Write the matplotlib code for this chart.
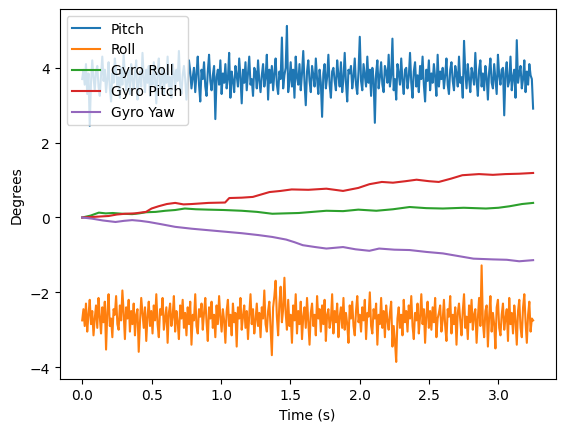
import numpy as np
import matplotlib
matplotlib.use("Agg")
import matplotlib.pyplot as plt

duration = 3.25

pitch = [
    3.70, 3.95, 3.55, 4.10, 3.30, 3.85, 2.45, 3.60, 4.20, 3.75, 3.40, 3.90,
    4.05, 3.50, 3.25, 3.80, 4.30, 3.65, 3.95, 3.35, 3.70, 4.15, 3.45, 3.10,
    3.85, 3.60, 4.25, 3.90, 3.50, 3.75, 3.20, 4.00, 3.55, 4.35, 3.80, 3.40,
    3.65, 3.95, 3.30, 4.10, 3.70, 3.45, 3.85, 4.20, 3.15, 3.60, 3.90, 3.50,
    4.40, 3.75, 3.35, 3.95, 3.60, 4.05, 3.25, 3.80, 3.55, 4.15, 3.70, 3.05,
    3.90, 4.25, 3.45, 3.65, 4.00, 3.30, 3.85, 3.60, 4.30, 3.50, 3.75, 3.20,
    4.10, 3.85, 3.40, 3.95, 3.65, 4.45, 3.55, 3.30, 3.80, 4.05, 3.70, 3.15,
    3.60, 4.20, 3.90, 3.45, 3.75, 4.00, 3.35, 3.85, 4.30, 3.55, 3.10, 3.95,
    3.70, 4.15, 3.50, 3.25, 3.90, 4.35, 3.65, 3.40, 3.80, 4.05, 2.63, 3.75,
    3.95, 3.55, 4.20, 3.30, 3.85, 3.60, 4.10, 3.45, 3.70, 4.40, 3.20, 3.90,
    3.65, 3.35, 4.05, 3.80, 3.50, 4.25, 3.75, 3.05, 3.95, 3.60, 4.15, 3.40,
    3.85, 4.30, 3.55, 3.70, 3.25, 4.00, 3.90, 3.45, 4.20, 3.65, 3.35, 3.80,
    4.10, 3.50, 3.75, 4.35, 3.15, 3.95, 3.60, 4.05, 3.40, 3.85, 4.25, 3.55,
    3.30, 3.90, 3.70, 4.81, 3.45, 3.80, 4.00, 5.12, 3.35, 3.65, 4.15, 3.50,
    3.95, 3.20, 4.30, 3.75, 3.55, 4.10, 3.40, 3.85, 4.45, 3.60, 3.00, 3.90,
    4.20, 3.65, 3.35, 4.05, 3.80, 3.50, 4.25, 3.70, 3.30, 3.95, 3.60, 2.69,
    3.85, 4.10, 3.45, 3.75, 4.35, 3.55, 3.20, 3.90, 4.00, 3.65, 3.40, 4.20,
    3.80, 3.50, 4.15, 3.35, 3.70, 4.40, 3.60, 3.10, 3.95, 3.85, 4.05, 3.45,
    3.75, 4.25, 3.55, 3.30, 3.90, 4.83, 3.65, 3.40, 4.10, 3.80, 3.50, 4.30,
    3.60, 3.95, 3.25, 4.00, 3.70, 2.53, 3.85, 4.20, 3.45, 3.75, 4.15, 3.55,
    3.35, 4.05, 3.90, 3.60, 4.35, 3.50, 3.80, 4.78, 3.40, 3.70, 3.15, 4.10,
    3.85, 3.55, 4.25, 3.65, 3.30, 3.95, 4.00, 3.45, 3.75, 4.40, 3.60, 3.20,
    3.90, 4.15, 3.50, 3.80, 3.35, 4.05, 3.70, 4.30, 3.55, 3.10, 3.95, 3.65,
    4.20, 3.40, 3.85, 3.60, 4.10, 3.75, 3.25, 4.35, 3.50, 3.90, 3.70, 4.00,
    3.45, 3.80, 4.25, 3.55, 3.30, 3.95, 4.15, 3.65, 3.40, 4.05, 3.85, 3.50,
    4.30, 3.60, 3.75, 3.20, 4.72, 3.90, 3.45, 4.10, 3.70, 3.35, 4.00, 3.80,
    3.55, 4.40, 3.65, 3.25, 3.95, 4.20, 3.50, 3.85, 3.40, 4.05, 3.75, 3.15,
    3.90, 4.25, 3.60, 3.45, 4.10, 3.70, 3.30, 4.35, 3.80, 3.55, 3.95, 4.00,
    2.73, 3.85, 4.15, 3.50, 3.65, 4.30, 3.40, 3.75, 3.95, 3.20, 4.74, 3.60,
    3.85, 4.05, 3.45, 3.70, 4.20, 3.35, 3.90, 3.55, 4.10, 3.80, 3.70, 2.91,
]

roll = [
    -2.75, -2.45, -2.90, -2.30, -3.05, -2.60, -2.20, -2.85, -2.50, -3.15, -2.70, -2.35,
    -2.95, -2.15, -2.65, -3.10, -2.40, -2.80, -2.25, -3.53, -2.55, -2.05, -2.90, -2.70,
    -3.20, -2.45, -2.60, -2.10, -2.85, -3.00, -2.35, -2.75, -1.95, -2.55, -3.25, -2.40,
    -2.70, -2.20, -3.05, -2.50, -2.85, -2.30, -3.15, -2.60, -2.45, -3.59, -2.80, -2.15,
    -2.55, -2.95, -2.40, -3.30, -2.65, -2.25, -2.90, -2.50, -3.10, -2.35, -2.75, -2.05,
    -2.85, -3.20, -2.45, -2.60, -2.15, -3.00, -2.70, -2.40, -3.35, -2.55, -2.30, -2.90,
    -2.65, -2.10, -3.05, -2.50, -2.80, -3.25, -2.35, -2.70, -2.20, -2.95, -2.55, -3.15,
    -2.40, -2.85, -2.25, -3.40, -2.60, -2.75, -2.05, -2.90, -3.10, -2.45, -2.65, -2.30,
    -3.00, -2.55, -2.15, -2.80, -3.30, -2.40, -2.70, -2.25, -2.95, -2.60, -3.20, -2.35,
    -2.85, -2.10, -2.65, -3.05, -2.45, -2.75, -3.35, -2.50, -2.20, -2.90, -2.60, -3.15,
    -2.30, -2.80, -2.55, -3.45, -2.40, -2.70, -2.15, -3.00, -2.65, -2.35, -2.95, -2.50,
    -3.25, -2.60, -2.05, -2.85, -2.45, -3.10, -2.75, -2.30, -2.90, -2.55, -3.20, -2.40,
    -2.70, -1.95, -2.85, -3.05, -2.50, -2.25, -2.95, -3.68, -2.40, -2.10, -1.69, -2.65,
    -3.15, -2.30, -1.85, -2.80, -2.45, -1.61, -2.55, -3.00, -2.20, -2.90, -2.60, -3.35,
    -2.35, -2.75, -2.05, -3.10, -2.50, -2.85, -2.25, -3.25, -2.65, -2.40, -2.95, -2.15,
    -2.80, -3.40, -2.55, -2.30, -2.90, -2.60, -3.15, -2.10, -2.70, -2.45, -3.05, -2.35,
    -2.85, -2.20, -3.30, -2.60, -2.45, -2.95, -2.75, -2.05, -3.10, -2.50, -2.80, -2.30,
    -3.20, -2.65, -2.40, -2.95, -2.15, -3.00, -2.55, -2.85, -3.35, -2.35, -2.70, -2.25,
    -2.90, -3.15, -2.50, -2.10, -2.80, -2.60, -3.05, -2.40, -2.75, -2.20, -3.25, -2.55,
    -2.65, -2.00, -2.90, -3.10, -2.45, -2.70, -2.30, -3.40, -2.60, -2.85, -2.15, -2.95,
    -2.50, -3.20, -2.35, -2.75, -3.00, -2.55, -2.25, -3.45, -2.90, -3.30, -3.86, -2.70,
    -2.40, -2.95, -2.60, -3.15, -2.20, -2.80, -2.50, -3.05, -2.35, -2.70, -2.10, -2.90,
    -3.25, -2.55, -2.75, -2.30, -3.10, -2.65, -2.05, -2.85, -2.45, -3.35, -2.60, -2.25,
    -2.95, -2.50, -3.00, -2.40, -2.80, -2.15, -3.20, -2.70, -2.55, -2.35, -3.05, -2.75,
    -2.20, -2.90, -3.30, -2.45, -2.65, -2.10, -3.10, -2.60, -2.85, -2.40, -3.40, -2.55,
    -2.30, -2.75, -3.15, -2.50, -2.05, -2.95, -2.65, -3.25, -2.35, -2.80, -2.20, -3.00,
    -2.60, -2.45, -3.35, -2.70, -2.15, -2.90, -1.28, -2.80, -3.20, -2.50, -2.35, -3.45,
    -2.65, -2.10, -3.05, -2.55, -2.85, -3.50, -2.40, -2.20, -2.95, -3.15, -2.60, -2.30,
    -3.00, -2.70, -2.45, -3.30, -2.15, -2.85, -2.55, -3.10, -2.35, -2.75, -3.40, -2.50,
    -2.20, -2.95, -3.20, -2.40, -2.05, -2.80, -3.35, -2.60, -2.25, -3.05, -2.70, -2.75,
]

# integrated gyro angles (smooth drift), sampled at irregular times
gyro_roll_t = [0.0, 0.06, 0.12, 0.17, 0.22, 0.29, 0.36, 0.41, 0.46, 0.53, 0.60, 0.67,
               0.74, 0.82, 0.91, 1.02, 1.15, 1.26, 1.37, 1.46, 1.56, 1.66, 1.76, 1.88,
               1.99, 2.12, 2.24, 2.36, 2.48, 2.60, 2.75, 2.91, 3.00, 3.08, 3.17, 3.25]
gyro_roll = [0.00, 0.05, 0.13, 0.11, 0.12, 0.10, 0.09, 0.11, 0.14, 0.15, 0.18, 0.20,
             0.24, 0.22, 0.21, 0.20, 0.18, 0.15, 0.10, 0.11, 0.12, 0.15, 0.18, 0.17,
             0.21, 0.18, 0.22, 0.28, 0.25, 0.24, 0.26, 0.24, 0.26, 0.30, 0.36, 0.39]

gyro_pitch_t = [0.0, 0.10, 0.19, 0.25, 0.31, 0.38, 0.46, 0.50, 0.55, 0.61, 0.67, 0.73,
                0.79, 0.91, 1.03, 1.06, 1.15, 1.23, 1.35, 1.43, 1.51, 1.63, 1.76, 1.88,
                1.99, 2.07, 2.16, 2.24, 2.33, 2.41, 2.50, 2.57, 2.66, 2.74, 2.86, 2.96,
                3.05, 3.15, 3.25]
gyro_pitch = [0.00, 0.02, 0.04, 0.08, 0.10, 0.11, 0.15, 0.24, 0.30, 0.36, 0.39, 0.35,
              0.36, 0.39, 0.40, 0.52, 0.53, 0.55, 0.68, 0.71, 0.75, 0.74, 0.77, 0.71,
              0.79, 0.89, 0.95, 0.93, 0.97, 1.01, 0.97, 0.95, 1.04, 1.13, 1.16, 1.14,
              1.16, 1.17, 1.19]

gyro_yaw_t = [0.0, 0.07, 0.15, 0.24, 0.30, 0.36, 0.42, 0.48, 0.57, 0.67, 0.79, 0.91,
              1.03, 1.15, 1.27, 1.37, 1.47, 1.53, 1.59, 1.68, 1.76, 1.82, 1.88, 1.97,
              2.07, 2.14, 2.25, 2.36, 2.48, 2.60, 2.71, 2.82, 2.96, 3.06, 3.15, 3.25]
gyro_yaw = [0.00, -0.03, -0.08, -0.12, -0.09, -0.07, -0.09, -0.12, -0.18, -0.25, -0.30, -0.34,
            -0.38, -0.42, -0.47, -0.52, -0.59, -0.66, -0.74, -0.79, -0.83, -0.81, -0.79, -0.85,
            -0.89, -0.83, -0.86, -0.87, -0.92, -0.96, -1.03, -1.10, -1.12, -1.13, -1.17, -1.14]

t = np.linspace(0, duration, len(pitch))

plt.figure(figsize=(6.4, 4.8))
plt.plot(t, pitch, label="Pitch")
plt.plot(t, roll, label="Roll")
plt.plot(gyro_roll_t, gyro_roll, label="Gyro Roll")
plt.plot(gyro_pitch_t, gyro_pitch, label="Gyro Pitch")
plt.plot(gyro_yaw_t, gyro_yaw, label="Gyro Yaw")
plt.xlabel("Time (s)")
plt.ylabel("Degrees")
plt.legend(loc="upper left")
plt.savefig("out.png", dpi=100, bbox_inches="tight")
